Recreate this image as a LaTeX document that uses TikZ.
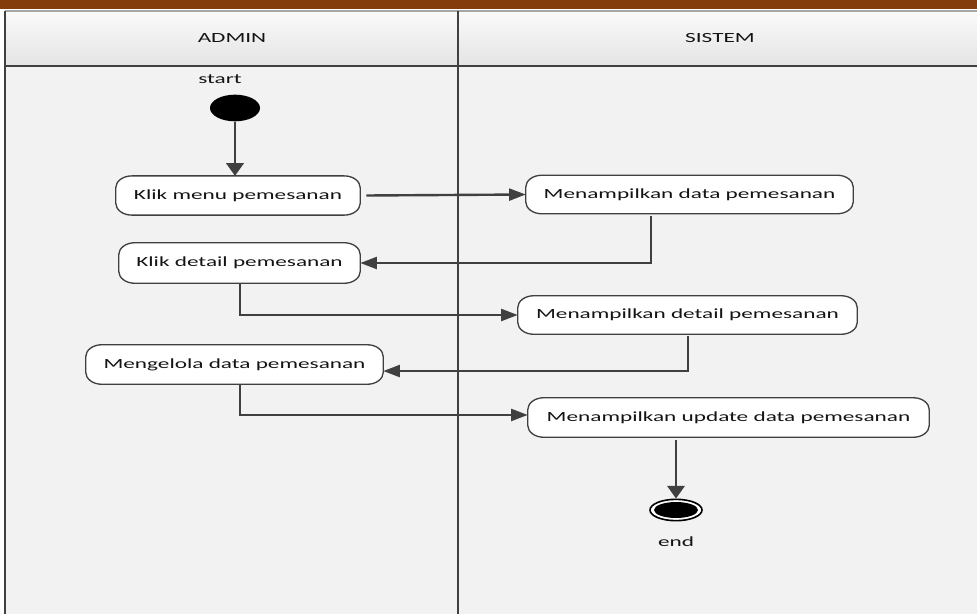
\documentclass[tikz,border=0pt]{standalone}
\usepackage{fontspec}
\setmainfont{Carlito}[FakeStretch=1.66]
\usetikzlibrary{arrows.meta,calc,shapes.geometric}
\definecolor{barbrown}{HTML}{843C0C}
\definecolor{lanefill}{HTML}{F2F2F2}
\definecolor{headtop}{HTML}{FAFAFA}
\definecolor{headbot}{HTML}{E4E4E4}
\definecolor{linegray}{HTML}{404040}
\definecolor{textblack}{HTML}{141414}
\tikzset{
  acttext/.style={inner sep=0pt, font=\fontsize{10.5pt}{12pt}\selectfont, text=textblack},
  actline/.style={draw=linegray, line width=1pt, fill=white},
  flowline/.style={draw=linegray, line width=1.8pt},
  hflow/.style={flowline, -{Triangle[length=12.5pt,width=9pt]}},
  vflow/.style={flowline, -{Triangle[length=9.5pt,width=13pt]}},
  lanetext/.style={font=\fontsize{10.5pt}{12pt}\selectfont, text=textblack},
}
% rounded frame with elliptic ends drawn around an activity node
\newcommand\actframe[1]{%
  \draw[actline] ([xshift=12pt]#1.north west) -- ([xshift=-12pt]#1.north east)
    arc[start angle=90, end angle=0, x radius=12pt, y radius=9pt]
    -- ([yshift=9pt]#1.south east)
    arc[start angle=0, end angle=-90, x radius=12pt, y radius=9pt]
    -- ([xshift=12pt]#1.south west)
    arc[start angle=270, end angle=180, x radius=12pt, y radius=9pt]
    -- ([yshift=-9pt]#1.north west)
    arc[start angle=180, end angle=90, x radius=12pt, y radius=9pt]
    -- cycle;
  \node[acttext] at (#1) {\csname acttxt@#1\endcsname};%
}
\makeatletter
\newcommand\activity[5]{% name, centre, width, height, text
  \expandafter\def\csname acttxt@#1\endcsname{#5}%
  \node[acttext, minimum width=#3, minimum height=#4] (#1) at #2 {};%
  \actframe{#1}%
}
\makeatother
\begin{document}
\begin{tikzpicture}[x=0.75pt,y=-0.75pt]
\useasboundingbox (0,0) rectangle (977,614);
\fill[white] (0,0) rectangle (977,614);
% title bar
\fill[barbrown] (0,0) rectangle (977,9);
% swimlane body and header
\fill[lanefill] (5,66) rectangle (977,614);
\shade[top color=headtop, bottom color=headbot] (5,11) rectangle (977,66);
\draw[gray!70, line width=0.8pt] (5,11) -- (977,11);
\draw[linegray, line width=0.8pt] (5,66) -- (977,66);
\draw[linegray, line width=0.8pt] (5,11) -- (5,614);
\draw[linegray, line width=0.8pt] (458,11) -- (458,614);
\node[lanetext] (hadmin) at (232,38.5) {ADMIN};
\node[lanetext] (hsistem) at (720,38.5) {SISTEM};

% start and end
\node[lanetext] (starttxt) at (220,79) {start};
\node[ellipse, fill=black, minimum width=37.5pt, minimum height=20pt, inner sep=0pt] (start) at (235,108) {};

\node[ellipse, draw=black, line width=1.2pt, fill=white, minimum width=39pt, minimum height=16pt, inner sep=0pt] (end) at (676,510) {};
\node[ellipse, fill=black, minimum width=33pt, minimum height=12pt, inner sep=0pt] (endin) at (676,510) {};
\node[lanetext] (endtxt) at (676,542) {end};

% activities
\activity{b1}{(238,195.5)}{183pt}{29pt}{Klik menu pemesanan}
\activity{b2}{(689.5,194.5)}{245.25pt}{28.5pt}{Menampilkan data pemesanan}
\activity{b3}{(239.5,263)}{180.75pt}{30pt}{Klik detail pemesanan}
\activity{b4}{(687.5,315)}{254.25pt}{28.5pt}{Menampilkan detail pemesanan}
\activity{b5}{(234.5,364.5)}{222.75pt}{29.25pt}{Mengelola data pemesanan}
\activity{b6}{(728.5,417.5)}{300.75pt}{29.25pt}{Menampilkan update data pemesanan}

% control flow
\draw[vflow] (start.south) -- (start |- b1.north);
\draw[hflow] ([xshift=4.5pt]b1.east) -- (b2.west);
\draw[hflow] ([yshift=-1.5pt]b2.south -| 651,0) |- (b3.east);
\draw[hflow] (b3.south -| 240,0) |- (b4.west);
\draw[hflow] ([yshift=-1.5pt]b4.south -| 688,0) |- ([yshift=-4.9pt]b5.east);
\draw[hflow] (b5.south -| 240,0) |- ([yshift=1.9pt]b6.west);
\draw[vflow] ([yshift=-2pt]b6.south -| 676,0) -- (end.north);
\end{tikzpicture}
\end{document}
